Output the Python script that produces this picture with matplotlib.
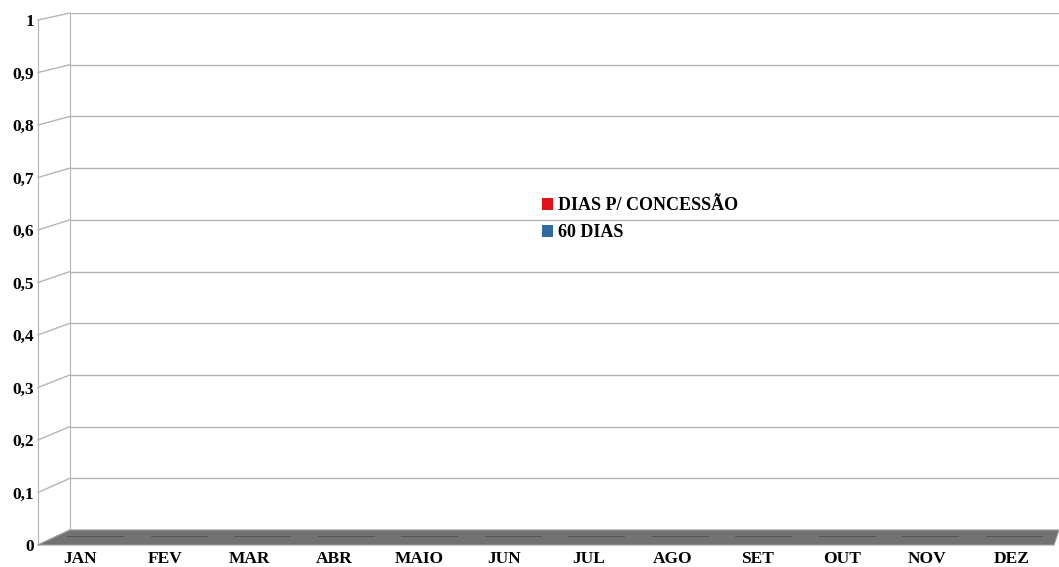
import matplotlib
matplotlib.use("Agg")
import matplotlib.pyplot as plt
from matplotlib.patches import Polygon
from matplotlib.lines import Line2D
import numpy as np

#------ data ------
meses = ['JAN', 'FEV', 'MAR', 'ABR', 'MAIO', 'JUN', 'JUL', 'AGO', 'SET', 'OUT', 'NOV', 'DEZ']
dias_concessao = [0, 0, 0, 0, 0, 0, 0, 0, 0, 0, 0, 0]
dias_60 = [0, 0, 0, 0, 0, 0, 0, 0, 0, 0, 0, 0]
y_ticks = [0, 0.1, 0.2, 0.3, 0.4, 0.5, 0.6, 0.7, 0.8, 0.9, 1]
y_labels = ['0', '0,1', '0,2', '0,3', '0,4', '0,5', '0,6', '0,7', '0,8', '0,9', '1']

plt.rcParams['font.family'] = ['Liberation Serif', 'DejaVu Serif']
plt.rcParams['font.weight'] = 'bold'

W, H = 1059, 567
fig = plt.figure(figsize=(W / 100, H / 100), dpi=100)

def box(x0, x1, ytop, ybot):
    return [x0 / W, (H - ybot) / H, (x1 - x0) / W, (ybot - ytop) / H]

grid_col = '#b4b4b4'
x = np.arange(len(meses))

#------ back wall ------
ax_b = fig.add_axes(box(70, 1059, 13, 530), zorder=0)
ax_b.set_facecolor('none')
ax_b.set_xlim(-0.5, 11.5)
ax_b.set_ylim(0, 1)
ax_b.set_yticks(y_ticks)
ax_b.set_xticks([])
ax_b.tick_params(left=False, labelleft=False)
ax_b.grid(axis='y', color=grid_col, linewidth=1)
for s in ['top', 'right', 'bottom']:
    ax_b.spines[s].set_visible(False)
ax_b.spines['left'].set_color(grid_col)

#------ front axis (labels) ------
ax_f = fig.add_axes(box(38, 1054, 20, 545), zorder=1)
ax_f.set_facecolor('none')
ax_f.set_xlim(-0.5, 11.5)
ax_f.set_ylim(0, 1)
ax_f.set_yticks(y_ticks)
ax_f.set_yticklabels(y_labels, fontsize=12.5, fontweight='bold')
ax_f.set_xticks(x)
ax_f.set_xticklabels(meses, fontsize=12.5, fontweight='bold')
ax_f.tick_params(axis='y', length=0, pad=3)
ax_f.tick_params(axis='x', length=0, pad=4)
for s in ['top', 'right', 'bottom']:
    ax_f.spines[s].set_visible(False)
ax_f.spines['left'].set_color(grid_col)

# diagonal links front -> back wall
inv = fig.transFigure.inverted()
for v in y_ticks:
    pf = inv.transform(ax_f.transData.transform((-0.5, v)))
    pb = inv.transform(ax_b.transData.transform((-0.5, v)))
    fig.add_artist(Line2D([pf[0], pb[0]], [pf[1], pb[1]], color=grid_col, linewidth=1, zorder=0.5))

# floor
bl = inv.transform(ax_b.transData.transform((-0.5, 0)))
br = inv.transform(ax_b.transData.transform((11.5, 0)))
fr = inv.transform(ax_f.transData.transform((11.5, 0)))
fl = inv.transform(ax_f.transData.transform((-0.5, 0)))
floor = Polygon([bl, br, fr, fl], closed=True, facecolor='#727272', edgecolor='#9a9a9a',
                linewidth=0.8, transform=fig.transFigure, zorder=1.5)
fig.add_artist(floor)

#------ bars (all zero) ------
ax_m = fig.add_axes(box(54, 1056, 17, 537), zorder=2)
ax_m.set_facecolor('none')
ax_m.set_xlim(-0.5, 11.5)
ax_m.set_ylim(0, 1)
ax_m.axis('off')
w = 0.34
b1 = ax_m.bar(x - w / 2, dias_concessao, w, color='#e3111b', edgecolor='#4e4e4e', linewidth=1.2,
              label='DIAS P/ CONCESSÃO')
b2 = ax_m.bar(x + w / 2, dias_60, w, color='#2f6aa3', edgecolor='#4e4e4e', linewidth=1.2,
              label='60 DIAS')

leg = fig.legend(handles=[b1, b2], loc='upper left', bbox_to_anchor=(526 / W, 1 - 181 / H),
                 frameon=False, prop={'size': 13, 'weight': 'bold'},
                 handlelength=0.6, handleheight=0.6, handletextpad=0.25, labelspacing=0.55)
for h in leg.legend_handles:
    h.set_edgecolor('none')

fig.savefig('out.png', dpi=100)
